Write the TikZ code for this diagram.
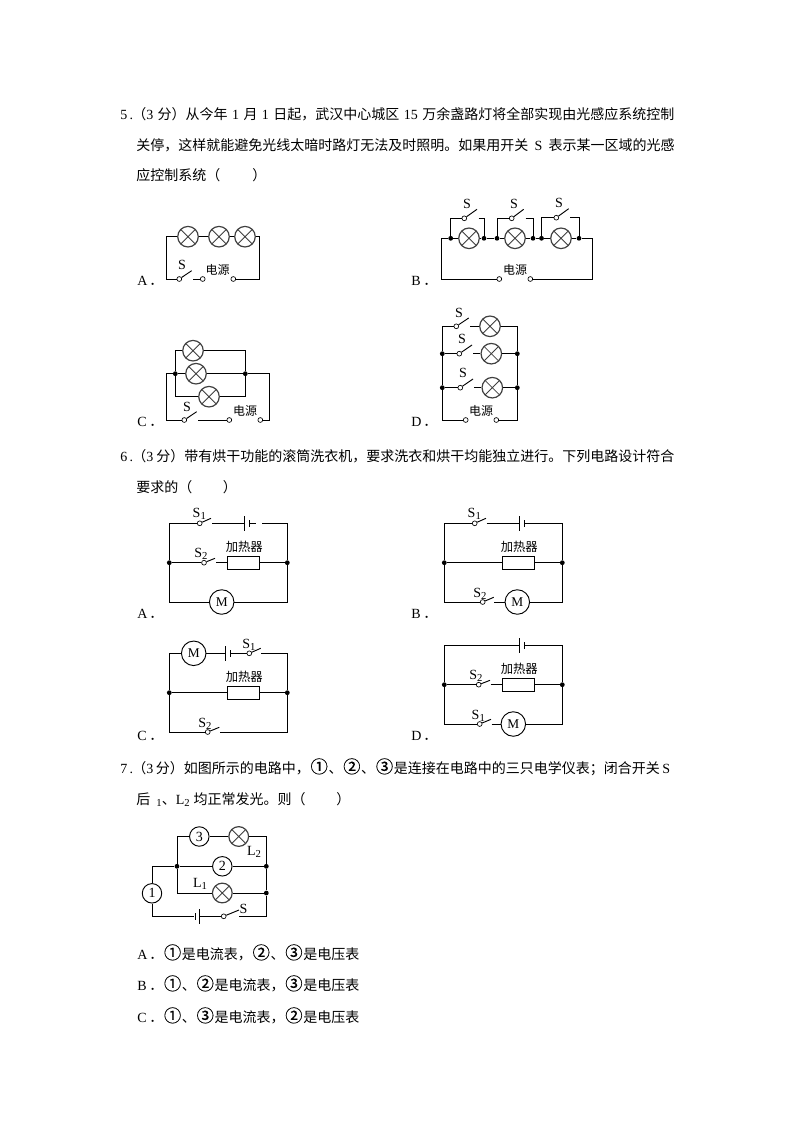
\documentclass[tikz,border=0pt]{standalone}
\usepackage{fontspec}
\setmainfont{Noto Sans CJK SC}
\newfontfamily\latfont{Liberation Serif}
\newfontfamily\cnumfont[FakeBold=0.4]{Noto Sans CJK SC}
\newcommand{\lat}[1]{{\latfont #1}}
\newcommand{\sbs}[1]{\raisebox{-1.5pt}{\latfont\footnotesize #1}}
\newcommand{\fitline}[2]{\makebox[#1][s]{#2}}
\newcommand{\cnum}[1]{\makebox[14pt]{\cnumfont\fontsize{13pt}{13pt}\selectfont #1}}
\newcommand{\optname}[1]{\makebox[9pt][l]{\lat{#1}}．}
\newcommand{\qnum}[1]{\makebox[9pt][l]{\lat{#1\,.}}}
\tikzstyle{wire} = [line width=0.7pt, line join=miter, black]
\tikzstyle{lamp} = [circle, draw=black!75, line width=0.9pt, fill=white, minimum size=15.4pt, inner sep=0pt, path picture={\draw[line width=0.6pt] (path picture bounding box.north east) -- (path picture bounding box.south west) (path picture bounding box.north west) -- (path picture bounding box.south east);}]
\tikzstyle{term} = [circle, draw=black, line width=0.5pt, fill=white, minimum size=3.6pt, inner sep=0pt]
\tikzstyle{dot} = [circle, fill=black, minimum size=3.6pt, inner sep=0pt]
\tikzstyle{motor} = [circle, draw=black, line width=0.7pt, minimum size=18.4pt, inner sep=0pt, font=\latfont\fontsize{10pt}{10pt}\selectfont]
\tikzstyle{meter} = [circle, draw=black, line width=0.7pt, minimum size=14.6pt, inner sep=0pt, font=\latfont\fontsize{10.5pt}{10.5pt}\selectfont]
\tikzstyle{heater} = [rectangle, draw=black, line width=0.7pt, minimum width=24.3pt, minimum height=9.8pt, inner sep=0pt]
\tikzstyle{longplate} = [rectangle, fill=black, minimum width=0.7pt, minimum height=11.5pt, inner sep=0pt]
\tikzstyle{shortplate} = [rectangle, fill=black, minimum width=0.7pt, minimum height=5.5pt, inner sep=0pt]
\tikzstyle{para} = [anchor=base west, inner sep=0pt, font=\fontsize{10.5pt}{10.5pt}\selectfont]
\tikzstyle{tag} = [inner sep=0pt, font=\latfont\fontsize{10.5pt}{10.5pt}\selectfont]
\tikzstyle{source} = [inner sep=0pt, font=\fontsize{9pt}{9pt}\selectfont]
\tikzstyle{warmer} = [inner sep=0pt, font=\fontsize{9.25pt}{9.25pt}\selectfont]
\tikzstyle{opt} = [anchor=base west, inner sep=0pt, font=\fontsize{10.5pt}{10.5pt}\selectfont]
\begin{document}
\begin{tikzpicture}[x=0.75pt,y=-0.75pt]
\useasboundingbox (0,0) rectangle (794,1123);

% question text
\node (q5a) [para] at (120,119.5) {\fitline{415.5pt}{\qnum{5}（\lat{3 }分）从今年\lat{ 1 }月\lat{ 1 }日起，武汉中心城区\lat{ 15 }万余盏路灯将全部实现由光感应系统控制}};
\node (q5b) [para] at (136,150.5) {\fitline{403.7pt}{关停，这样就能避免光线太暗时路灯无法及时照明。如果用开关\lat{ S }表示某一区域的光感}};
\node (q5c) [para] at (136,181) {应控制系统（\hspace{24pt}）};
\node (q6a) [para] at (120,461.5) {\fitline{415.5pt}{\qnum{6}（\lat{3 }分）带有烘干功能的滚筒洗衣机，要求洗衣和烘干均能独立进行。下列电路设计符合}};
\node (q6b) [para] at (136,492.5) {要求的（\hspace{23pt}）};
\node (q7a) [para] at (120,773) {\fitline{412.5pt}{\qnum{7}（\lat{3 }分）如图所示的电路中，\cnum{①}、\cnum{②}、\cnum{③}是连接在电路中的三只电学仪表；闭合开关\lat{ S}}};
\node (q7b) [para] at (136,804) {后\lat{ }\hspace{2pt}\sbs{1}、\lat{L\sbs{2}}\hspace{3pt}均正常发光。则（\hspace{23pt}）};
\node (q7A) [opt] at (137,959) {\optname{A}\cnum{①}是电流表，\cnum{②}、\cnum{③}是电压表};
\node (q7B) [opt] at (137,990) {\optname{B}\cnum{①}、\cnum{②}是电流表，\cnum{③}是电压表};
\node (q7C) [opt] at (137,1022) {\optname{C}\cnum{①}、\cnum{③}是电流表，\cnum{②}是电压表};

% option tags
\node (tA5) [opt] at (137,285) {\optname{A}};
\node (tB5) [opt] at (411,285) {\optname{B}};
\node (tC5) [opt] at (137,426) {\optname{C}};
\node (tD5) [opt] at (411,426) {\optname{D}};
\node (tA6) [opt] at (137,618) {\optname{A}};
\node (tB6) [opt] at (411,618) {\optname{B}};
\node (tC6) [opt] at (137,740) {\optname{C}};
\node (tD6) [opt] at (411,740) {\optname{D}};

% 5 A
\node (aL1) [lamp] at (188,236.7) {};
\node (aL2) [lamp] at (219,236.7) {};
\node (aL3) [lamp] at (245,236.7) {};
\node (aS) [term] at (179.3,279) {};
\node (aP1) [term] at (202.7,279) {};
\node (aP2) [term] at (233.3,279) {};
\node (aSl) [tag] at (182,265) {S};
\node (aSrc) [source] at (217.7,270) {电源};
\coordinate (aTL) at (166.7,236.7);
\coordinate (aBL) at (166.7,279);
\coordinate (aTR) at (259.7,236.7);
\coordinate (aBR) at (259.7,279);
\coordinate (aSe) at (191.7,270.7);
\coordinate (aSw) at (193,279);
\draw [wire] (aL1) -- (aTL) -- (aBL) -- (aS);
\draw [wire] (aS) -- (aSe);
\draw [wire] (aSw) -- (aP1);
\draw [wire] (aP2) -- (aBR) -- (aTR) -- (aL3);
\draw [wire] (aL1) -- (aL2);
\draw [wire] (aL2) -- (aL3);

% 5 B
\node (bL1) [lamp] at (469,238.3) {};
\node (bL2) [lamp] at (515,238.3) {};
\node (bL3) [lamp] at (561,238.3) {};
\node (bD1) [dot] at (450.7,238.3) {};
\node (bD2) [dot] at (484,238.3) {};
\node (bD3) [dot] at (497,238.3) {};
\node (bD4) [dot] at (533,238.3) {};
\node (bD5) [dot] at (541.5,238.3) {};
\node (bD6) [dot] at (579,238.3) {};
\node (bS1) [term] at (464.3,218.3) {};
\node (bS2) [term] at (511.7,218.3) {};
\node (bS3) [term] at (556.3,217.7) {};
\node (bP1) [term] at (499.3,279) {};
\node (bP2) [term] at (530.3,279) {};
\node (bSl1) [tag] at (467,204.3) {S};
\node (bSl2) [tag] at (514,204.3) {S};
\node (bSl3) [tag] at (559,203.3) {S};
\node (bSrc) [source] at (515,270) {电源};
\coordinate (bLe) at (441.3,238.3);
\coordinate (bRi) at (592.3,238.3);
\coordinate (bBL) at (441.3,279);
\coordinate (bBR) at (592.3,279);
\coordinate (bT1) at (450.7,218.3);
\coordinate (bT2) at (484,218.3);
\coordinate (bT3) at (497,218.3);
\coordinate (bT4) at (533,218.3);
\coordinate (bT5) at (541.5,217.7);
\coordinate (bT6) at (579,217.7);
\coordinate (bE1) at (477,209.3);
\coordinate (bE2) at (523.7,209.3);
\coordinate (bE3) at (568.7,208.7);
\coordinate (bW1) at (478.7,218.3);
\coordinate (bW2) at (525.7,218.3);
\coordinate (bW3) at (570,217.7);
\draw [wire] (bP1) -- (bBL) -- (bLe) -- (bD1);
\draw [wire] (bD1) -- (bL1);
\draw [wire] (bL1) -- (bD2);
\draw [wire] (bD2) -- (bD3);
\draw [wire] (bD3) -- (bL2);
\draw [wire] (bL2) -- (bD4);
\draw [wire] (bD4) -- (bD5);
\draw [wire] (bD5) -- (bL3);
\draw [wire] (bL3) -- (bD6);
\draw [wire] (bD6) -- (bRi) -- (bBR) -- (bP2);
\draw [wire] (bD1) -- (bT1) -- (bS1);
\draw [wire] (bS1) -- (bE1);
\draw [wire] (bW1) -- (bT2) -- (bD2);
\draw [wire] (bD3) -- (bT3) -- (bS2);
\draw [wire] (bS2) -- (bE2);
\draw [wire] (bW2) -- (bT4) -- (bD4);
\draw [wire] (bD5) -- (bT5) -- (bS3);
\draw [wire] (bS3) -- (bE3);
\draw [wire] (bW3) -- (bT6) -- (bD6);

% 5 C
\node (cL1) [lamp] at (193,350.7) {};
\node (cL2) [lamp] at (196,373.7) {};
\node (cL3) [lamp] at (209,396.7) {};
\node (cD1) [dot] at (175.3,373.7) {};
\node (cD2) [dot] at (245.3,373.7) {};
\node (cS) [term] at (184.3,420) {};
\node (cP1) [term] at (229.3,420) {};
\node (cP2) [term] at (260.3,420) {};
\node (cSl) [tag] at (187,406.7) {S};
\node (cSrc) [source] at (245,411) {电源};
\coordinate (cTL) at (175.3,350.7);
\coordinate (cTR) at (245.3,350.7);
\coordinate (cUL) at (175.3,396.7);
\coordinate (cUR) at (245.3,396.7);
\coordinate (cOL) at (166.7,373.7);
\coordinate (cOR) at (269.3,373.7);
\coordinate (cBL) at (166.7,420);
\coordinate (cBR) at (269.3,420);
\coordinate (cSe) at (196.7,411.7);
\coordinate (cSw) at (198.3,420);
\draw [wire] (cD1) -- (cTL) -- (cL1);
\draw [wire] (cL1) -- (cTR) -- (cD2);
\draw [wire] (cD1) -- (cL2);
\draw [wire] (cL2) -- (cD2);
\draw [wire] (cD1) -- (cUL) -- (cL3);
\draw [wire] (cL3) -- (cUR) -- (cD2);
\draw [wire] (cD1) -- (cOL) -- (cBL) -- (cS);
\draw [wire] (cS) -- (cSe);
\draw [wire] (cSw) -- (cP1);
\draw [wire] (cP2) -- (cBR) -- (cOR) -- (cD2);

% 5 D
\node (dL1) [lamp] at (490,326.3) {};
\node (dL2) [lamp] at (491.3,353.7) {};
\node (dL3) [lamp] at (492.3,387.7) {};
\node (dD1) [dot] at (442.3,353.7) {};
\node (dD2) [dot] at (517.3,353.7) {};
\node (dD3) [dot] at (442.3,387.7) {};
\node (dD4) [dot] at (517.3,387.7) {};
\node (dS1) [term] at (456.3,326.3) {};
\node (dS2) [term] at (459.3,353.7) {};
\node (dS3) [term] at (460.3,387.7) {};
\node (dP1) [term] at (465.7,420) {};
\node (dP2) [term] at (496.3,420) {};
\node (dSl1) [tag] at (459,312.7) {S};
\node (dSl2) [tag] at (462,339.3) {S};
\node (dSl3) [tag] at (463,373.3) {S};
\node (dSrc) [source] at (481,410.7) {电源};
\coordinate (dTL) at (442.3,326.3);
\coordinate (dTR) at (517.3,326.3);
\coordinate (dBL) at (442.3,420);
\coordinate (dBR) at (517.3,420);
\coordinate (dE1) at (468.7,318);
\coordinate (dE2) at (472,345);
\coordinate (dE3) at (473,379);
\coordinate (dW1) at (470,326.3);
\coordinate (dW2) at (473,353.7);
\coordinate (dW3) at (474,387.7);
\draw [wire] (dS1) -- (dTL) -- (dD1);
\draw [wire] (dD1) -- (dD3);
\draw [wire] (dD3) -- (dBL) -- (dP1);
\draw [wire] (dL1) -- (dTR) -- (dD2);
\draw [wire] (dD2) -- (dD4);
\draw [wire] (dD4) -- (dBR) -- (dP2);
\draw [wire] (dS1) -- (dE1);
\draw [wire] (dW1) -- (dL1);
\draw [wire] (dD1) -- (dS2);
\draw [wire] (dS2) -- (dE2);
\draw [wire] (dW2) -- (dL2);
\draw [wire] (dL2) -- (dD2);
\draw [wire] (dD3) -- (dS3);
\draw [wire] (dS3) -- (dE3);
\draw [wire] (dW3) -- (dL3);
\draw [wire] (dL3) -- (dD4);

% 6 A
\node (eS1) [term] at (199.7,523.3) {};
\node (eLong) [longplate] at (244.7,523.3) {};
\node (eShort) [shortplate] at (249.3,523.3) {};
\node (eS2) [term] at (204,562.7) {};
\node (eBox) [heater] at (243.5,562.7) {};
\node (eM) [motor] at (221.7,602) {M};
\node (eD1) [dot] at (169.3,562.7) {};
\node (eD2) [dot] at (287.3,562.7) {};
\node (eSl1) [tag] at (199.3,514.3) {S\sbs{1}};
\node (eSl2) [tag] at (201,554.3) {S\sbs{2}};
\node (eHt) [warmer] at (244.3,547.3) {加热器};
\coordinate (eTL) at (169.3,523.3);
\coordinate (eTR) at (287.3,523.3);
\coordinate (eBL) at (169.3,602);
\coordinate (eBR) at (287.3,602);
\coordinate (eE1) at (211,518.3);
\coordinate (eW1) at (212,523.3);
\coordinate (eE2) at (215,558.3);
\coordinate (eW2) at (216,562.7);
\coordinate (eGap1) at (256,523.3);
\coordinate (eGap2) at (262.3,523.3);
\draw [wire] (eD1) -- (eTL) -- (eS1);
\draw [wire] (eS1) -- (eE1);
\draw [wire] (eW1) -- (eLong);
\draw [wire] (eShort) -- (eGap1);
\draw [wire] (eGap2) -- (eTR) -- (eD2);
\draw [wire] (eD1) -- (eS2);
\draw [wire] (eS2) -- (eE2);
\draw [wire] (eW2) -- (eBox);
\draw [wire] (eBox) -- (eD2);
\draw [wire] (eD1) -- (eBL) -- (eM);
\draw [wire] (eM) -- (eBR) -- (eD2);

% 6 B
\node (fS1) [term] at (474.7,523.3) {};
\node (fLong) [longplate] at (519.3,523.3) {};
\node (fShort) [shortplate] at (524,523.3) {};
\node (fBox) [heater] at (518.5,562.7) {};
\node (fS2) [term] at (482.7,602) {};
\node (fM) [motor] at (517.3,602) {M};
\node (fD1) [dot] at (444.3,562.7) {};
\node (fD2) [dot] at (562.3,562.7) {};
\node (fSl1) [tag] at (474.3,514.3) {S\sbs{1}};
\node (fSl2) [tag] at (480,593.7) {S\sbs{2}};
\node (fHt) [warmer] at (519.3,547.3) {加热器};
\coordinate (fTL) at (444.3,523.3);
\coordinate (fTR) at (562.3,523.3);
\coordinate (fBL) at (444.3,602);
\coordinate (fBR) at (562.3,602);
\coordinate (fE1) at (486,518.3);
\coordinate (fW1) at (486.7,523.3);
\coordinate (fE2) at (493.7,597.3);
\coordinate (fW2) at (494.3,602);
\draw [wire] (fD1) -- (fTL) -- (fS1);
\draw [wire] (fS1) -- (fE1);
\draw [wire] (fW1) -- (fLong);
\draw [wire] (fShort) -- (fTR) -- (fD2);
\draw [wire] (fD1) -- (fBox);
\draw [wire] (fBox) -- (fD2);
\draw [wire] (fD1) -- (fBL) -- (fS2);
\draw [wire] (fS2) -- (fE2);
\draw [wire] (fW2) -- (fM);
\draw [wire] (fM) -- (fBR) -- (fD2);

% 6 C
\node (gM) [motor] at (193.7,653.3) {M};
\node (gLong) [longplate] at (225.7,653.3) {};
\node (gShort) [shortplate] at (230.3,653.3) {};
\node (gS1) [term] at (249.3,653.3) {};
\node (gBox) [heater] at (243.5,692.7) {};
\node (gS2) [term] at (207.7,732) {};
\node (gD1) [dot] at (169.3,692.7) {};
\node (gD2) [dot] at (287.3,692.7) {};
\node (gSl1) [tag] at (249,644.7) {S\sbs{1}};
\node (gSl2) [tag] at (205,723.7) {S\sbs{2}};
\node (gHt) [warmer] at (244.3,677) {加热器};
\coordinate (gTL) at (169.3,653.3);
\coordinate (gTR) at (287.3,653.3);
\coordinate (gBL) at (169.3,732);
\coordinate (gBR) at (287.3,732);
\coordinate (gE1) at (260.7,648.3);
\coordinate (gW1) at (261.3,653.3);
\coordinate (gE2) at (219.3,727.3);
\coordinate (gW2) at (220,732);
\draw [wire] (gD1) -- (gTL) -- (gM);
\draw [wire] (gM) -- (gLong);
\draw [wire] (gShort) -- (gS1);
\draw [wire] (gS1) -- (gE1);
\draw [wire] (gW1) -- (gTR) -- (gD2);
\draw [wire] (gD1) -- (gBox);
\draw [wire] (gBox) -- (gD2);
\draw [wire] (gD1) -- (gBL) -- (gS2);
\draw [wire] (gS2) -- (gE2);
\draw [wire] (gW2) -- (gBR) -- (gD2);

% 6 D
\node (hLong) [longplate] at (519.3,645.3) {};
\node (hShort) [shortplate] at (524,645.3) {};
\node (hS2) [term] at (478.7,684.7) {};
\node (hBox) [heater] at (518.5,684.7) {};
\node (hS1) [term] at (479.7,724) {};
\node (hM) [motor] at (513.3,724) {M};
\node (hD1) [dot] at (444.3,684.7) {};
\node (hD2) [dot] at (562.3,684.7) {};
\node (hSl1) [tag] at (478.3,715.7) {S\sbs{1}};
\node (hSl2) [tag] at (476,676.3) {S\sbs{2}};
\node (hHt) [warmer] at (519.3,669) {加热器};
\coordinate (hTL) at (444.3,645.3);
\coordinate (hTR) at (562.3,645.3);
\coordinate (hBL) at (444.3,724);
\coordinate (hBR) at (562.3,724);
\coordinate (hE2) at (490,680.3);
\coordinate (hW2) at (490.7,684.7);
\coordinate (hE1) at (491,719.3);
\coordinate (hW1) at (491.7,724);
\draw [wire] (hD1) -- (hTL) -- (hLong);
\draw [wire] (hShort) -- (hTR) -- (hD2);
\draw [wire] (hD1) -- (hS2);
\draw [wire] (hS2) -- (hE2);
\draw [wire] (hW2) -- (hBox);
\draw [wire] (hBox) -- (hD2);
\draw [wire] (hD1) -- (hBL) -- (hS1);
\draw [wire] (hS1) -- (hE1);
\draw [wire] (hW1) -- (hM);
\draw [wire] (hM) -- (hBR) -- (hD2);

% 7
\node (kM3) [meter] at (199.3,836.5) {3};
\node (kL2) [lamp, minimum size=14.8pt] at (238.7,836.5) {};
\node (kM2) [meter] at (222.3,866.3) {2};
\node (kL1) [lamp, minimum size=14.8pt] at (222.3,893) {};
\node (kM1) [meter] at (152,893.3) {1};
\node (kD1) [dot] at (177,866.3) {};
\node (kD2) [dot] at (266.3,866.3) {};
\node (kD3) [dot] at (266.3,893) {};
\node (kShort) [shortplate] at (195,916.3) {};
\node (kLong) [longplate] at (199.7,916.3) {};
\node (kS) [term] at (223.7,916.3) {};
\node (kSl) [tag] at (243.5,909) {S};
\node (kLb1) [tag] at (200,884.3) {L\sbs{1}};
\node (kLb2) [tag] at (254,852.3) {L\sbs{2}};
\coordinate (kTL) at (177,836.5);
\coordinate (kTR) at (266.3,836.5);
\coordinate (kUL) at (177,893);
\coordinate (kOL) at (152,866.3);
\coordinate (kBL) at (152,916.3);
\coordinate (kBR) at (266.3,916.3);
\coordinate (kSe) at (239,910);
\coordinate (kSw) at (239.3,916.3);
\draw [wire] (kD1) -- (kTL) -- (kM3);
\draw [wire] (kM3) -- (kL2);
\draw [wire] (kL2) -- (kTR) -- (kD2);
\draw [wire] (kD1) -- (kM2);
\draw [wire] (kM2) -- (kD2);
\draw [wire] (kD1) -- (kUL) -- (kL1);
\draw [wire] (kL1) -- (kD3);
\draw [wire] (kD2) -- (kD3);
\draw [wire] (kD1) -- (kOL) -- (kM1);
\draw [wire] (kM1) -- (kBL) -- (kShort);
\draw [wire] (kLong) -- (kS);
\draw [wire] (kS) -- (kSe);
\draw [wire] (kSw) -- (kBR) -- (kD3);
\end{tikzpicture}
\end{document}
